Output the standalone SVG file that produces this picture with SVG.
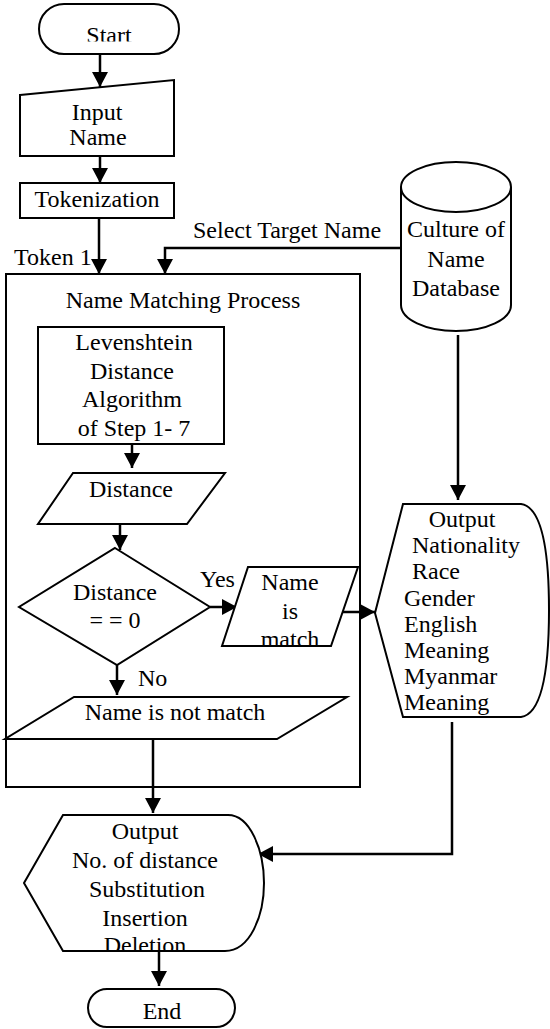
<svg xmlns="http://www.w3.org/2000/svg" width="550" height="1029" viewBox="0 0 550 1029">
<style>
.s{fill:#fff;stroke:#000;stroke-width:2}
.n{fill:none;stroke:#000;stroke-width:2}
text{font-family:"Liberation Serif","Times New Roman",serif;font-size:24px;fill:#000}
.c{text-anchor:middle}
.l{stroke:#000;stroke-width:2.5;fill:none}
</style>
<defs>
<marker id="ah" markerUnits="userSpaceOnUse" markerWidth="16" markerHeight="16" refX="15" refY="8" orient="auto">
<path d="M0,0 L15,8 L0,16 Z" fill="#000"/>
</marker>
<clipPath id="cStart"><rect x="0" y="0" width="550" height="41.5"/></clipPath>
<clipPath id="cMatch"><rect x="0" y="0" width="550" height="645"/></clipPath>
<clipPath id="cDel"><rect x="0" y="0" width="550" height="950"/></clipPath>
</defs>

<g id="connectors">
<line class="l" x1="100" y1="54" x2="100" y2="87" marker-end="url(#ah)"/>
<line class="l" x1="100" y1="156" x2="100" y2="183" marker-end="url(#ah)"/>
<line class="l" x1="99" y1="218" x2="99" y2="274" marker-end="url(#ah)"/>
<polyline class="l" points="402,248 165,248 165,274" marker-end="url(#ah)"/>
<line class="l" x1="458" y1="335" x2="458" y2="500" marker-end="url(#ah)"/>
<line class="l" x1="132" y1="444" x2="132" y2="468" marker-end="url(#ah)"/>
<line class="l" x1="120" y1="524" x2="120" y2="550" marker-end="url(#ah)"/>
<line class="l" x1="210" y1="607" x2="237" y2="607" marker-end="url(#ah)"/>
<line class="l" x1="342" y1="612" x2="375" y2="612" marker-end="url(#ah)"/>
<line class="l" x1="117" y1="663" x2="117" y2="695" marker-end="url(#ah)"/>
<line class="l" x1="153" y1="739" x2="153" y2="813" marker-end="url(#ah)"/>
<polyline class="l" points="452,722 452,854 258,854" marker-end="url(#ah)"/>
<line class="l" x1="159" y1="951" x2="159" y2="986" marker-end="url(#ah)"/>
<text x="14" y="265">Token 1</text>
<text x="193" y="238">Select Target Name</text>
<text x="200" y="587">Yes</text>
<text x="138" y="686">No</text>
</g>

<g id="start">
<rect class="s" x="39" y="4" width="140" height="50" rx="25"/>
<text class="c" x="109" y="43" clip-path="url(#cStart)">Start</text>
</g>

<g id="input-name">
<polygon class="s" points="20,95 174,80 174,156 20,156"/>
<text class="c" x="97" y="120">Input</text>
<text class="c" x="98" y="145">Name</text>
</g>

<g id="tokenization">
<rect class="s" x="20" y="183" width="154" height="35"/>
<text class="c" x="97" y="207">Tokenization</text>
</g>

<g id="database">
<path class="s" d="M401,187 A55,25 0 0 1 511,187 L511,305 A55,26 0 0 1 401,305 Z"/>
<path class="n" d="M401,187 A55,25 0 0 0 511,187"/>
<text class="c" x="456" y="237">Culture of</text>
<text class="c" x="456" y="267">Name</text>
<text class="c" x="456" y="296">Database</text>
</g>

<g id="name-matching-process">
<rect class="n" x="6" y="274" width="354" height="513"/>
<text class="c" x="183" y="308">Name Matching Process</text>
</g>

<g id="levenshtein">
<rect class="s" x="38" y="327" width="186" height="117"/>
<text class="c" x="134" y="350">Levenshtein</text>
<text class="c" x="132" y="379">Distance</text>
<text class="c" x="132" y="407">Algorithm</text>
<text class="c" x="134" y="436">of Step 1- 7</text>
</g>

<g id="distance">
<polygon class="s" points="73,473 225,473 187,524 38,524"/>
<text class="c" x="131" y="497">Distance</text>
</g>

<g id="decision">
<polygon class="s" points="115,548 210,607 117,665 19,607"/>
<text class="c" x="115" y="600">Distance</text>
<text class="c" x="115" y="628">= = 0</text>
</g>

<g id="name-is-match">
<polygon class="s" points="248,567 358,567 331,646 222,646"/>
<text class="c" x="290" y="590">Name</text>
<text class="c" x="290" y="619">is</text>
<text class="c" x="290" y="647" clip-path="url(#cMatch)">match</text>
</g>

<g id="name-is-not-match">
<polygon class="s" points="74,697 347,697 277,739 5,739"/>
<text class="c" x="175" y="720">Name is not match</text>
</g>

<g id="output-culture">
<path class="s" d="M403,504 L521,504 Q549,508 549,610 Q549,713 521,717 L403,717 L375,613 Z"/>
<text class="c" x="462" y="527">Output</text>
<text x="412" y="553">Nationality</text>
<text x="412" y="579">Race</text>
<text x="404" y="606">Gender</text>
<text x="404" y="632">English</text>
<text x="404" y="658">Meaning</text>
<text x="404" y="684">Myanmar</text>
<text x="404" y="710">Meaning</text>
</g>

<g id="output-distance">
<path class="s" d="M63,815 L228,815 C250,815 264,850 264,883 C264,916 250,951 225,951 L63,951 L24,883 Z"/>
<text class="c" x="145" y="839">Output</text>
<text class="c" x="145" y="868">No. of distance</text>
<text class="c" x="147" y="897">Substitution</text>
<text class="c" x="145" y="926">Insertion</text>
<text class="c" x="145" y="953" clip-path="url(#cDel)">Deletion</text>
</g>

<g id="end">
<rect class="s" x="88" y="989" width="147" height="38" rx="19"/>
<text class="c" x="162" y="1019">End</text>
</g>
</svg>
